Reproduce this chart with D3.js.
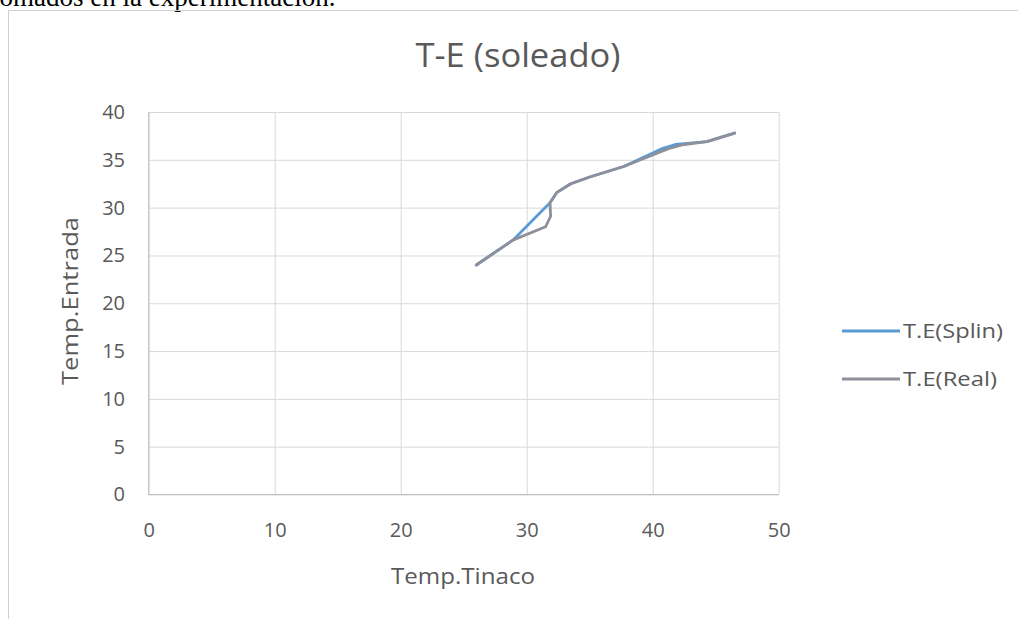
<!DOCTYPE html>
<html>
<head>
<meta charset="utf-8">
<script src="https://cdn.jsdelivr.net/npm/d3@7"></script>
<style>
  html, body { margin: 0; padding: 0; background: #fff; }
  svg { display: block; }
</style>
</head>
<body>
<svg id="chart" width="1018" height="619"></svg>
<script>
// ---- data ----
const chartTitle = "T-E (soleado)";
const xTitle = "Temp.Tinaco";
const yTitle = "Temp.Entrada";
const xTicks = [0, 10, 20, 30, 40, 50];
const yTicks = [0, 5, 10, 15, 20, 25, 30, 35, 40];
const seriesNames = ["T.E(Splin)", "T.E(Real)"];

const splinX = [26, 28.9, 31.85, 32.4, 33.5, 35, 37.7, 40, 40.8, 41.8, 42.5, 44.3, 46.5];
const splinY = [24, 26.6, 30.5, 31.6, 32.5, 33.2, 34.3, 35.7, 36.2, 36.6, 36.7, 36.9, 37.8];

const realX = [26, 28.9, 31.5, 31.9, 31.85, 32.4, 33.5, 35, 37.7, 40, 41.3, 42.5, 44.3, 46.5];
const realY = [24, 26.6, 28, 29.1, 30.5, 31.6, 32.5, 33.2, 34.3, 35.5, 36.2, 36.6, 36.9, 37.8];

// ---- layout ----
const svg = d3.select("#chart");
const plot = { left: 148.7, right: 778.7, top: 112, bottom: 494.5 };
const x = d3.scaleLinear().domain([0, 50]).range([plot.left, plot.right]);
const y = d3.scaleLinear().domain([0, 40]).range([plot.bottom, plot.top]);
const font = "'Open Sans', Lato, sans-serif";
const txt = "#595959";

// document text above chart (cut off at the top, as in the source)
svg.append("text")
  .attr("x", -8).attr("y", 6)
  .attr("font-family", "'Liberation Serif', 'DejaVu Serif', serif")
  .attr("font-size", 27).attr("fill", "#000")
  .text("tomados en la experimentación.");

// chart frame (left and top border)
svg.append("path")
  .attr("d", "M8.5,619 L8.5,10.5 L1018,10.5")
  .attr("fill", "none").attr("stroke", "#d0d0d0").attr("stroke-width", 1);

// gridlines
svg.append("g")
  .attr("transform", `translate(0,${plot.bottom})`)
  .call(d3.axisBottom(x).tickValues(xTicks).tickSize(-(plot.bottom - plot.top)).tickFormat(""))
  .call(g => g.select(".domain").remove())
  .call(g => g.selectAll("line").attr("stroke", "#d9d9d9"));
svg.append("g")
  .attr("transform", `translate(${plot.left},0)`)
  .call(d3.axisLeft(y).tickValues(yTicks).tickSize(-(plot.right - plot.left)).tickFormat(""))
  .call(g => g.select(".domain").remove())
  .call(g => g.selectAll("line").attr("stroke", "#d9d9d9"));

// axis lines
svg.append("line")
  .attr("x1", plot.left).attr("x2", plot.left).attr("y1", plot.top).attr("y2", plot.bottom)
  .attr("stroke", "#bfbfbf");
svg.append("line")
  .attr("x1", plot.left).attr("x2", plot.right).attr("y1", plot.bottom).attr("y2", plot.bottom)
  .attr("stroke", "#bfbfbf");

// tick labels
const xAx = svg.append("g")
  .attr("transform", `translate(0,${plot.bottom})`)
  .call(d3.axisBottom(x).tickValues(xTicks).tickSize(0).tickPadding(28));
xAx.select(".domain").remove();
xAx.selectAll("text").attr("font-family", font).attr("font-size", 20).attr("fill", txt);

const yAx = svg.append("g")
  .attr("transform", `translate(125,0)`)
  .call(d3.axisLeft(y).tickValues(yTicks).tickSize(0).tickPadding(0));
yAx.select(".domain").remove();
yAx.selectAll("text").attr("font-family", font).attr("font-size", 20).attr("fill", txt);

// titles
svg.append("text")
  .attr("x", 518).attr("y", 67)
  .attr("text-anchor", "middle")
  .attr("font-family", font).attr("font-size", 33).attr("fill", txt)
  .attr("textLength", 205).attr("lengthAdjust", "spacingAndGlyphs")
  .text(chartTitle);
svg.append("text")
  .attr("x", 463).attr("y", 584)
  .attr("text-anchor", "middle")
  .attr("font-family", font).attr("font-size", 21).attr("fill", txt)
  .attr("textLength", 144).attr("lengthAdjust", "spacingAndGlyphs")
  .text(xTitle);
svg.append("text")
  .attr("transform", "translate(78,301) rotate(-90)")
  .attr("text-anchor", "middle")
  .attr("font-family", font).attr("font-size", 21).attr("fill", txt)
  .attr("textLength", 168).attr("lengthAdjust", "spacingAndGlyphs")
  .text(yTitle);

// lines
const colors = ["#5b9bd5", "#8d8f9a"];
const line = d3.line().x(d => x(d[0])).y(d => y(d[1])).curve(d3.curveLinear);
const splinData = splinX.map((v, i) => [v, splinY[i]]);
const realData = realX.map((v, i) => [v, realY[i]]);
[splinData, realData].forEach((data, i) => {
  svg.append("path")
    .datum(data)
    .attr("d", line)
    .attr("fill", "none")
    .attr("stroke", colors[i])
    .attr("stroke-width", 2.8)
    .attr("stroke-linejoin", "round")
    .attr("stroke-linecap", "round");
});

// legend
const legendY = [331, 379];
const legendLen = [100, 94];
seriesNames.forEach((name, i) => {
  svg.append("line")
    .attr("x1", 842).attr("x2", 900)
    .attr("y1", legendY[i]).attr("y2", legendY[i])
    .attr("stroke", colors[i]).attr("stroke-width", 2.8);
  svg.append("text")
    .attr("x", 903).attr("y", legendY[i])
    .attr("dy", "0.35em")
    .attr("font-family", font).attr("font-size", 20).attr("fill", txt)
    .attr("textLength", legendLen[i]).attr("lengthAdjust", "spacingAndGlyphs")
    .text(name);
});
</script>
</body>
</html>
